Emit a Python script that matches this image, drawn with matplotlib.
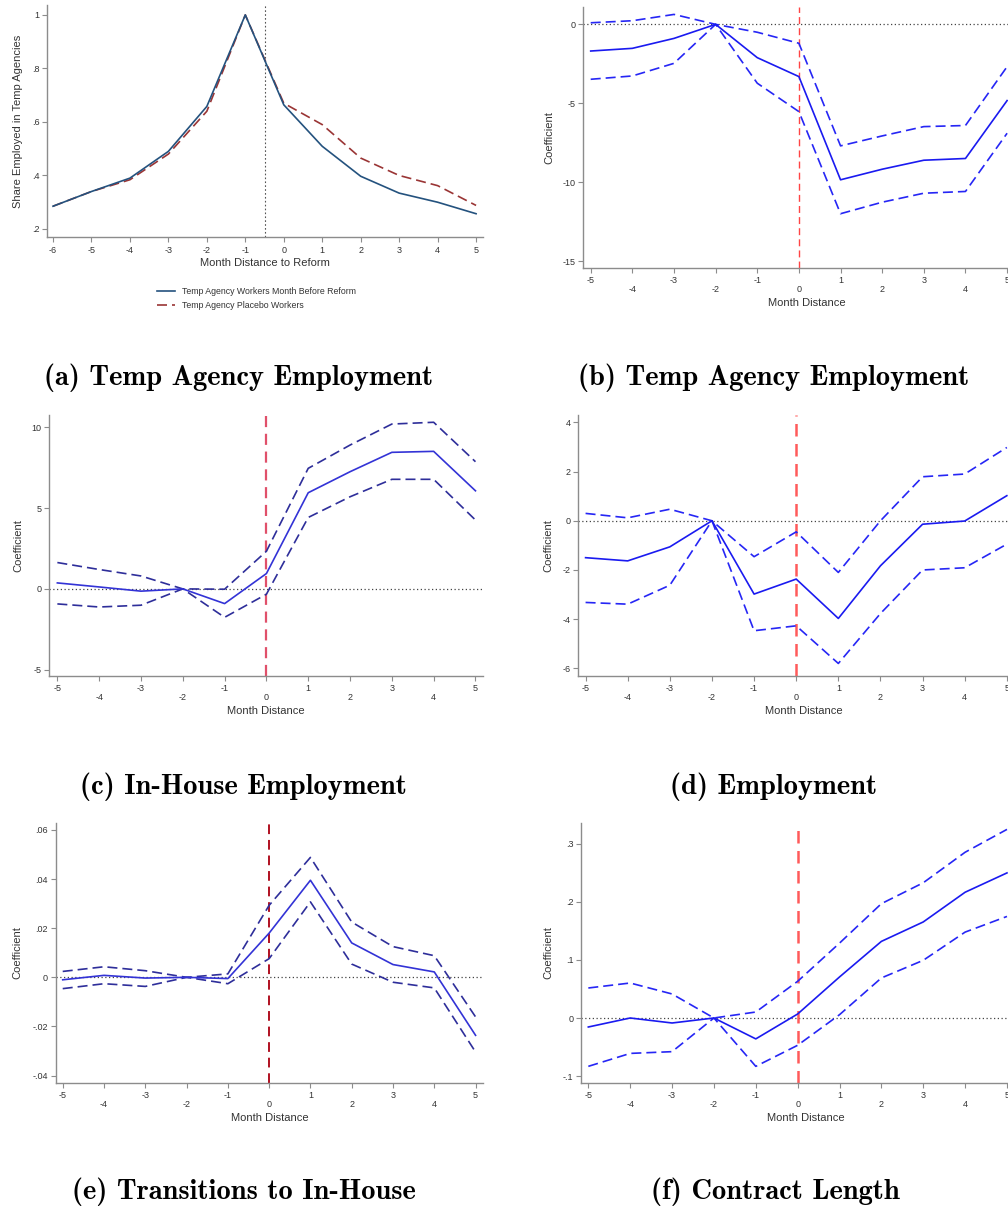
import matplotlib
matplotlib.use("Agg")
import matplotlib.pyplot as plt

plt.rcParams['font.family'] = ['Liberation Sans', 'DejaVu Sans']
plt.rcParams['axes.unicode_minus'] = False

# ---- (a) raw shares ----
months_a = [-6, -5, -4, -3, -2, -1, 0, 1, 2, 3, 4, 5]
share_treated = [0.285, 0.34, 0.39, 0.49, 0.658, 1.0, 0.664, 0.509, 0.397, 0.334, 0.30, 0.257]
share_placebo = [0.285, 0.34, 0.384, 0.48, 0.64, 1.0, 0.67, 0.59, 0.465, 0.40, 0.362, 0.288]
yticks_a = [0.2, 0.4, 0.6, 0.8, 1.0]
ytlabels_a = ['.2', '.4', '.6', '.8', '1']

# ---- event-study coefficients ----
months = [-5, -4, -3, -2, -1, 0, 1, 2, 3, 4, 5]
month_labels = ['-5', '-4', '-3', '-2', '-1', '0', '1', '2', '3', '4', '5']

temp_coef = [-1.69, -1.52, -0.89, 0.0, -2.11, -3.31, -9.85, -9.18, -8.61, -8.50, -4.83]
temp_hi = [0.10, 0.23, 0.63, 0.0, -0.50, -1.20, -7.70, -7.07, -6.48, -6.41, -2.68]
temp_lo = [-3.48, -3.27, -2.47, 0.0, -3.73, -5.53, -12.0, -11.27, -10.70, -10.59, -6.90]

inhouse_coef = [0.37, 0.12, -0.14, 0.0, -0.91, 0.95, 5.95, 7.25, 8.45, 8.51, 6.07]
inhouse_hi = [1.63, 1.20, 0.80, 0.0, -0.02, 2.33, 7.46, 8.90, 10.20, 10.31, 7.87]
inhouse_lo = [-0.93, -1.12, -1.01, 0.0, -1.76, -0.33, 4.42, 5.70, 6.78, 6.78, 4.26]

emp_coef = [-1.50, -1.63, -1.06, 0.0, -2.98, -2.37, -3.97, -1.83, -0.14, -0.01, 1.02]
emp_hi = [0.30, 0.12, 0.47, 0.0, -1.46, -0.45, -2.10, 0.0, 1.79, 1.90, 2.98]
emp_lo = [-3.32, -3.39, -2.62, 0.0, -4.47, -4.27, -5.80, -3.77, -2.00, -1.91, -0.95]

trans_coef = [-0.0010, 0.0008, -0.0003, 0.0, -0.0005, 0.0180, 0.0395, 0.0140, 0.0052, 0.0022, -0.0236]
trans_hi = [0.0024, 0.0043, 0.0027, 0.0, 0.0014, 0.0293, 0.0488, 0.0225, 0.0125, 0.0088, -0.0161]
trans_lo = [-0.0046, -0.0026, -0.0037, 0.0, -0.0026, 0.0076, 0.0307, 0.0054, -0.0020, -0.0043, -0.0304]

contract_coef = [-0.0155, 0.0, -0.0086, 0.0, -0.036, 0.0069, 0.0707, 0.132, 0.1655, 0.2167, 0.250]
contract_hi = [0.0517, 0.0603, 0.0414, 0.0, 0.0103, 0.0632, 0.129, 0.197, 0.233, 0.2856, 0.325]
contract_lo = [-0.0833, -0.061, -0.058, 0.0, -0.0833, -0.047, 0.0057, 0.069, 0.0994, 0.148, 0.175]

captions = ['(a) Temp Agency Employment', '(b) Temp Agency Employment',
            '(c) In-House Employment', '(d) Employment',
            '(e) Transitions to In-House', '(f) Contract Length']

W, H = 1008, 1211
fig = plt.figure(figsize=(W / 100, H / 100), dpi=100)

AXCOL = '#8c8c8c'
TXTCOL = '#333333'
LABEL_SIZE = 8


def make_axes(left, top, right, bottom):
    ax = fig.add_axes([left / W, 1 - bottom / H, (right - left) / W, (bottom - top) / H])
    ax._px_width = right - left
    for s in ('top', 'right'):
        ax.spines[s].set_visible(False)
    for s in ('left', 'bottom'):
        ax.spines[s].set_color(AXCOL)
        ax.spines[s].set_linewidth(1.0)
    ax.tick_params(axis='both', colors=AXCOL, labelcolor=TXTCOL, length=3.5,
                   width=0.8, labelsize=6.5, direction='out')
    ax.tick_params(axis='y', pad=2)
    ax.set_facecolor('white')
    return ax


def place_ylabel(ax, text, offset_px):
    ax.set_ylabel(text, fontsize=LABEL_SIZE, color=TXTCOL)
    ax.yaxis.set_label_coords(-offset_px / ax._px_width, 0.5)


def event_panel(ax, coef, hi, lo, xlim, ylim, yticks, ylabels, line_col, dash_col,
                vcol, vlw, ylab_offset):
    ax.axhline(0, color='#444444', lw=0.9, ls=(0, (1, 2)), zorder=1)
    ax.axvline(0, color=vcol, lw=vlw, ls=(0, (5, 3)), zorder=2)
    ax.plot(months, hi, color=dash_col, lw=1.2, ls=(0, (6, 3)), zorder=3)
    ax.plot(months, lo, color=dash_col, lw=1.2, ls=(0, (6, 3)), zorder=3)
    ax.plot(months, coef, color=line_col, lw=1.2, zorder=4)
    ax.set_xlim(*xlim)
    ax.set_ylim(*ylim)
    ax.set_yticks(yticks)
    ax.set_yticklabels(ylabels)
    ax.set_xticks(months)
    ax.set_xticklabels([lab if i % 2 == 0 else '\n' + lab
                        for i, lab in enumerate(month_labels)], linespacing=1.0)
    ax.tick_params(axis='x', pad=2)
    ax.set_xlabel('Month Distance', fontsize=LABEL_SIZE, color=TXTCOL, labelpad=3)
    place_ylabel(ax, 'Coefficient', ylab_offset)


# (a)
ax = make_axes(47, 5, 483, 237)
ax.axvline(-0.5, color='#555555', lw=0.8, ls=(0, (1.5, 2)), zorder=1)
ax.plot(months_a, share_treated, color='#24527e', lw=1.2, zorder=3,
        label='Temp Agency Workers Month Before Reform')
ax.plot(months_a, share_placebo, color='#9a3535', lw=1.2, ls=(0, (6, 3)), zorder=2,
        label='Temp Agency Placebo Workers')
ax.set_xlim(-6.156, 5.18)
ax.set_ylim(0.17, 1.037)
ax.set_xticks(months_a)
ax.set_xticklabels([str(m) for m in months_a])
ax.set_yticks(yticks_a)
ax.set_yticklabels(ytlabels_a)
ax.tick_params(axis='x', pad=3)
ax.set_xlabel('Month Distance to Reform', fontsize=LABEL_SIZE, color=TXTCOL, labelpad=2)
place_ylabel(ax, 'Share Employed in Temp Agencies', 24)
ax.legend(loc='upper left', bbox_to_anchor=(153 / W, 1 - 283 / H),
          bbox_transform=fig.transFigure, frameon=False, fontsize=6.3,
          handlelength=2.0, handletextpad=0.8, labelspacing=0.5, borderpad=0,
          labelcolor=TXTCOL)

# (b)
ax = make_axes(583, 7, 1030, 268)
event_panel(ax, temp_coef, temp_hi, temp_lo, (-5.185, 5.55), (-15.44, 1.1),
            [0, -5, -10, -15], ['0', '-5', '-10', '-15'],
            '#1a1af0', '#2626f5', '#ff4444', 1.0, 29)

# (c)
ax = make_axes(49, 415, 483, 676)
event_panel(ax, inhouse_coef, inhouse_hi, inhouse_lo, (-5.2, 5.18), (-5.39, 10.76),
            [-5, 0, 5, 10], ['-5', '0', '5', '10'],
            '#3333d6', '#2e2e9a', '#e0506a', 1.6, 26)

# (d)
ax = make_axes(578, 415, 1030, 676)
event_panel(ax, emp_coef, emp_hi, emp_lo, (-5.18, 5.55), (-6.31, 4.3),
            [-6, -4, -2, 0, 2, 4], ['-6', '-4', '-2', '0', '2', '4'],
            '#1a1af0', '#2626f5', '#ff5a5a', 1.8, 25)

# (e)
ax = make_axes(55.7, 823, 483, 1083)
event_panel(ax, trans_coef, trans_hi, trans_lo, (-5.17, 5.18), (-0.043, 0.0628),
            [-0.04, -0.02, 0, 0.02, 0.04, 0.06], ['-.04', '-.02', '0', '.02', '.04', '.06'],
            '#3333d6', '#2e2e9a', '#b01020', 1.4, 33)

# (f)
ax = make_axes(581, 823, 1030, 1083)
event_panel(ax, contract_coef, contract_hi, contract_lo, (-5.175, 5.55), (-0.112, 0.336),
            [-0.1, 0, 0.1, 0.2, 0.3], ['-.1', '0', '.1', '.2', '.3'],
            '#1a1af0', '#2626f5', '#ff5a5a', 1.8, 28)

# sub-figure captions
cap_pos = [(239, 378), (774, 378), (243, 787), (774, 787), (244, 1192), (775, 1192)]
for txt, (cx, cy) in zip(captions, cap_pos):
    fig.text(cx / W, 1 - cy / H, txt, ha='center', va='center',
             fontsize=20.5, family=['cmb10', 'DejaVu Serif'], color='black')

fig.savefig('out.png', dpi=100, facecolor='white')
